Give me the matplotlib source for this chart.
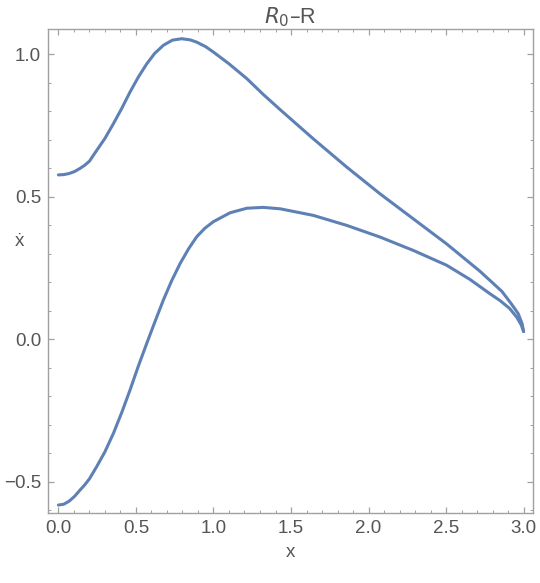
import matplotlib.pyplot as plt
from matplotlib.ticker import MultipleLocator

# phase curve R0-R, upper and lower branches
x_upper = [0.0, 0.035, 0.07, 0.105, 0.14, 0.17, 0.2, 0.247, 0.3, 0.355, 0.41, 0.462, 0.515, 0.57, 0.62,
           0.677, 0.735, 0.795, 0.85, 0.892, 0.95, 1.0, 1.1, 1.215, 1.32, 1.43, 1.643,
           1.858, 2.073, 2.288, 2.503, 2.718, 2.86, 2.92, 2.965, 2.99, 3.0]
y_upper = [0.577, 0.578, 0.582, 0.589, 0.60, 0.611, 0.625, 0.663, 0.705, 0.757, 0.812, 0.868, 0.92, 0.967, 1.003,
           1.032, 1.05, 1.055, 1.051, 1.043, 1.027, 1.008, 0.967, 0.915, 0.86, 0.806, 0.704,
           0.605, 0.511, 0.423, 0.335, 0.239, 0.168, 0.125, 0.09, 0.055, 0.027]

x_lower = [0.0, 0.035, 0.07, 0.105, 0.14, 0.17, 0.2, 0.247, 0.3, 0.355, 0.41, 0.462, 0.515, 0.57, 0.625,
           0.677, 0.73, 0.785, 0.84, 0.892, 0.945, 1.0, 1.107, 1.215, 1.32, 1.43, 1.643,
           1.858, 2.073, 2.288, 2.503, 2.654, 2.78, 2.85, 2.91, 2.955, 2.985, 3.0]
y_lower = [-0.582, -0.579, -0.568, -0.551, -0.529, -0.511, -0.49, -0.447, -0.395, -0.33, -0.255, -0.178, -0.095, -0.014, 0.065,
           0.138, 0.205, 0.266, 0.318, 0.36, 0.39, 0.413, 0.444, 0.46, 0.463, 0.458, 0.435,
           0.40, 0.359, 0.312, 0.26, 0.21, 0.161, 0.135, 0.108, 0.078, 0.05, 0.027]

plt.rcParams['font.family'] = ['Liberation Sans', 'DejaVu Sans']

fig = plt.figure(figsize=(5.4, 5.83), dpi=100)
ax = fig.add_axes([0.0889, 0.1195, 0.898, 0.8302])

line_color = '#5E81B5'
ax.plot(x_upper, y_upper, color=line_color, lw=2.2, solid_capstyle='round', solid_joinstyle='round')
ax.plot(x_lower, y_lower, color=line_color, lw=2.2, solid_capstyle='round', solid_joinstyle='round')

ax.set_xlim(-0.067, 3.06)
ax.set_ylim(-0.611, 1.088)

ax.xaxis.set_major_locator(MultipleLocator(0.5))
ax.xaxis.set_minor_locator(MultipleLocator(0.1))
ax.yaxis.set_major_locator(MultipleLocator(0.5))
ax.yaxis.set_minor_locator(MultipleLocator(0.1))
ax.xaxis.set_major_formatter(lambda v, p: f'{v:.1f}'.replace('-', '\u2212'))
ax.yaxis.set_major_formatter(lambda v, p: f'{v:.1f}'.replace('-', '\u2212'))

frame_gray = '#a0a0a0'
for s in ax.spines.values():
    s.set_color(frame_gray)
    s.set_linewidth(1.0)
ax.tick_params(which='both', direction='in', top=True, right=True,
               color=frame_gray, labelcolor='#555555', labelsize=13.5)
ax.tick_params(which='major', length=4, width=0.9, pad=5)
ax.tick_params(which='minor', length=2.2, width=0.7)

ax.set_title('$R_0$\u2013R', fontsize=15.5, color='#555555', pad=3)
ax.set_xlabel('x', fontsize=13.5, color='#555555', labelpad=5)
fig.text(0.036, 1 - 241.7 / 583, '\u1e8b', fontsize=13.5, color='#555555',
         ha='center', va='center')

fig.savefig('out.png', dpi=100)
print("Created: out.png")
